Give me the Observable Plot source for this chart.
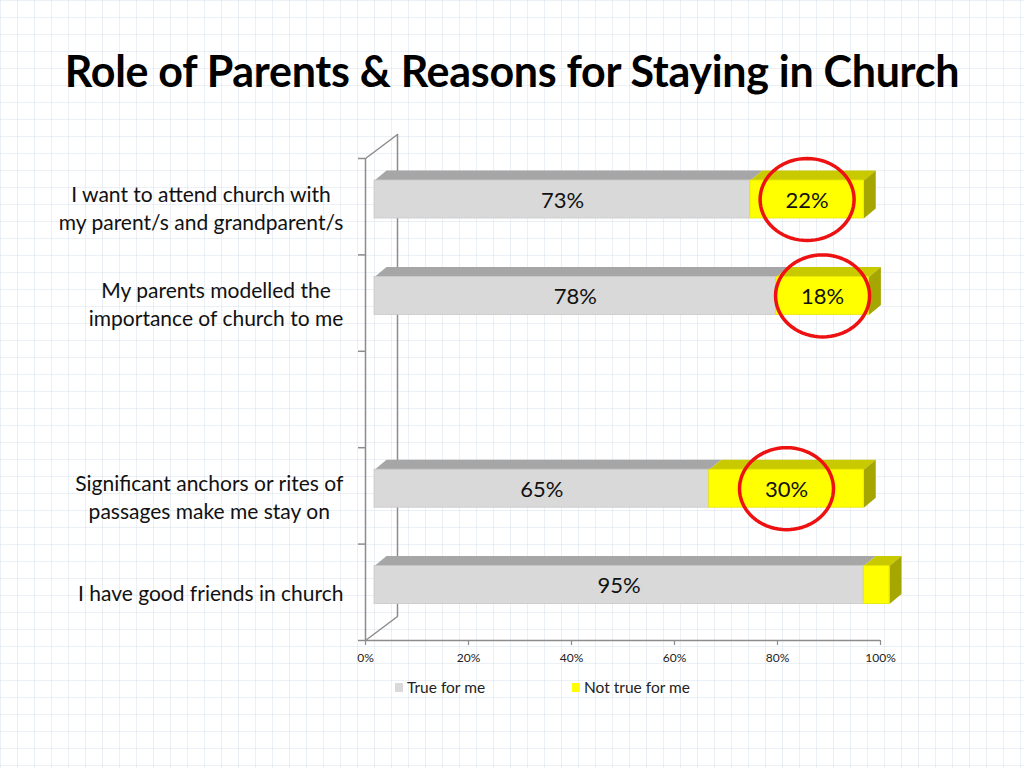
<!DOCTYPE html>
<html>
<head>
<meta charset="utf-8">
<script src="https://cdn.jsdelivr.net/npm/d3@7"></script>
<script src="https://cdn.jsdelivr.net/npm/@observablehq/plot@0.6"></script>
<style>
  html, body { margin: 0; padding: 0; }
  body {
    width: 1024px; height: 768px; position: relative; overflow: hidden;
    background-color: #ffffff;
    background-image:
      linear-gradient(to right, rgba(205,218,232,0.4) 1px, transparent 1px),
      linear-gradient(to bottom, rgba(205,218,232,0.4) 1px, transparent 1px);
    background-size: 17px 17px;
    font-family: Lato, "Open Sans", sans-serif;
  }
  #title {
    position: absolute; left: 0; top: 45px; width: 1024px; text-align: center;
    font-family: Lato, sans-serif; font-weight: 700; font-size: 43px; color: #000;
    letter-spacing: -0.3px;
  }
  #chart { position: absolute; left: 0; top: 120px; }
  #legend { position: absolute; top: 678px; left: 0; width: 1024px; height: 20px; font-size: 15.5px; color: #222; }
  .item { position: absolute; top: 0; display: flex; align-items: center; }
  .sw { width: 8px; height: 9px; margin-right: 4px; }
</style>
</head>
<body>
<div id="title">Role of Parents &amp; Reasons for Staying in Church</div>
<div id="chart"></div>
<div id="legend"></div>
<script>
// ---- data ----
const categories = [
  "I want to attend church with\nmy parent/s and grandparent/s",
  "My parents modelled the\nimportance of church to me",
  "",
  "Significant anchors or rites of\npassages make me stay on",
  "I have good friends in church"
];
const trueForMe    = [73, 78, null, 65, 95];
const notTrueForMe = [22, 18, null, 30, 5];
const circled      = [true, true, false, true, false];
const seriesNames  = ["True for me", "Not true for me"];
const xTicks       = [0, 20, 40, 60, 80, 100];

// ---- style ----
const colors = {
  front: ["#d9d9d9", "#ffff00"],
  top:   ["#a6a6a6", "#c9c900"],
  side:  ["#8c8c8c", "#a6a600"]
};
const W = 1024, H = 560, ML = 365, MR = 144, MT = 38, MB = 40;
const pxX = (W - ML - MR) / 100;      // px per x unit
const pxY = (H - MT - MB) / 5;        // px per y unit
const barShift = 9;                   // bars sit slightly into the wall
const depthX = 12 / pxX, depthY = 10 / pxY;
const frontTop = 22 / pxY, frontBot = 60 / pxY;
const wallX = 32 / pxX, wallY = 24 / pxY;

// segments
const segs = [];
categories.forEach((c, i) => {
  if (trueForMe[i] == null) return;
  const vals = [trueForMe[i], notTrueForMe[i]];
  let acc = 0;
  vals.forEach((v, s) => {
    segs.push({row: i, s, x1: acc, x2: acc + v, v, last: s === vals.length - 1,
      y1: i + frontTop, y2: i + frontBot});
    acc += v;
  });
});
const topPolys = [], sidePolys = [];
segs.forEach((d, k) => {
  const yt = d.y1, yb = d.y2;
  [[d.x1, yt], [d.x2, yt], [d.x2 + depthX, yt - depthY], [d.x1 + depthX, yt - depthY]]
    .forEach(([x, y]) => topPolys.push({id: k, s: d.s, x, y}));
  if (d.last) {
    [[d.x2, yt], [d.x2, yb], [d.x2 + depthX, yb - depthY], [d.x2 + depthX, yt - depthY]]
      .forEach(([x, y]) => sidePolys.push({id: k, s: d.s, x, y}));
  }
});

// highlight ellipses (slightly wider than tall) around the circled labels
const ellipses = [];
segs.filter(d => d.s === 1 && circled[d.row]).forEach((d, k) => {
  const cx = (d.x1 + d.x2) / 2, cy = (d.y1 + d.y2) / 2;
  d3.range(0, 72).forEach(j => {
    const a = j / 72 * 2 * Math.PI;
    ellipses.push({id: k, x: cx + Math.cos(a) * 47 / pxX, y: cy + Math.sin(a) * 41 / pxY});
  });
});

// category label positioning: centered lines, right edge aligned
const ctx = document.createElement("canvas").getContext("2d");
const labelFont = 21;
ctx.font = `${labelFont}px Lato`;
const catLabels = categories.map((c, i) => {
  const maxW = Math.max(...c.split("\n").map(l => ctx.measureText(l).width));
  return {text: c, y: i + 0.5, x: -(22 + maxW / 2) / pxX};
}).filter(d => d.text);

const chart = Plot.plot({
  width: W, height: H,
  marginLeft: ML, marginRight: MR, marginTop: MT, marginBottom: MB,
  x: {type: "linear", domain: [0, 100], axis: null},
  y: {type: "linear", domain: [0, 5], range: [MT, H - MB], axis: null},
  style: {background: "transparent", fontFamily: "Lato, sans-serif", overflow: "visible"},
  marks: [
    // 3D wall + floor
    Plot.ruleX([0], {y1: 0, y2: 5, stroke: "#8c8c8c", strokeWidth: 1.5}),
    Plot.ruleX([wallX], {y1: -wallY, y2: 5 - wallY, stroke: "#8c8c8c", strokeWidth: 1.5}),
    Plot.line([{x: 0, y: 0}, {x: wallX, y: -wallY}], {x: "x", y: "y", stroke: "#8c8c8c", strokeWidth: 1.5}),
    Plot.line([{x: 0, y: 5}, {x: wallX, y: 5 - wallY}], {x: "x", y: "y", stroke: "#8c8c8c", strokeWidth: 1.5}),
    Plot.ruleY(d3.range(0, 6), {y: d => d, x1: 0, x2: -7 / pxX, stroke: "#8c8c8c", strokeWidth: 1.5}),
    Plot.ruleY([5], {x1: 0, x2: 100, stroke: "#8c8c8c", strokeWidth: 1.5}),
    Plot.ruleX(xTicks, {x: d => d, y1: 5, y2: 5 + 5 / pxY, stroke: "#8c8c8c", strokeWidth: 1.2}),
    Plot.text(xTicks, {x: d => d, y: 5, dy: 18, text: d => d + "%", fontSize: 12, fill: "#222"}),
    // bars: top faces, side faces, front faces
    Plot.line(topPolys.filter(d => d.s === 0), {x: "x", y: "y", z: "id", fill: colors.top[0], stroke: "none", dx: barShift}),
    Plot.line(topPolys.filter(d => d.s === 1), {x: "x", y: "y", z: "id", fill: colors.top[1], stroke: "none", dx: barShift}),
    Plot.line(sidePolys.filter(d => d.s === 1), {x: "x", y: "y", z: "id", fill: colors.side[1], stroke: "none", dx: barShift}),
    Plot.rect(segs.filter(d => d.s === 0), {x1: "x1", x2: "x2", y1: "y1", y2: "y2", fill: colors.front[0],
      stroke: "#c8c8c8", strokeWidth: 0.8, dx: barShift}),
    Plot.rect(segs.filter(d => d.s === 1), {x1: "x1", x2: "x2", y1: "y1", y2: "y2", fill: colors.front[1],
      stroke: "#e6e600", strokeWidth: 0.8, dx: barShift}),
    // value labels
    Plot.text(segs.filter(d => d.v >= 10), {x: d => (d.x1 + d.x2) / 2, y: d => (d.y1 + d.y2) / 2,
      text: d => d.v + "%", fontSize: 22, fill: "#111", dx: barShift, dy: 1}),
    // highlight ellipses
    Plot.line(ellipses, {x: "x", y: "y", z: "id", curve: "linear-closed", stroke: "#ee1111",
      strokeWidth: 3.5, fill: "none", dx: barShift}),
    // category labels
    Plot.text(catLabels, {x: "x", y: "y", text: "text", textAnchor: "middle", lineHeight: 1.35,
      fontSize: labelFont, fill: "#111"})
  ]
});
document.getElementById("chart").appendChild(chart);

// legend
const legend = document.getElementById("legend");
const legendX = [395, 572];
seriesNames.forEach((n, i) => {
  const it = document.createElement("div");
  it.className = "item";
  it.style.left = legendX[i] + "px";
  it.innerHTML = `<span class="sw" style="background:${colors.front[i]}"></span><span>${n}</span>`;
  legend.appendChild(it);
});
</script>
</body>
</html>
